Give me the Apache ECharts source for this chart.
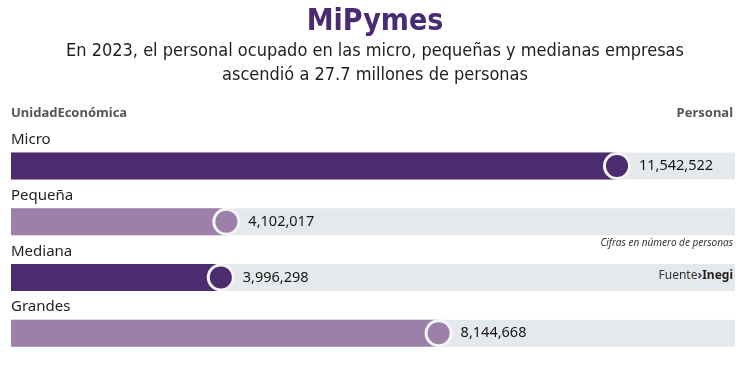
<!DOCTYPE html>
<html><head><meta charset="utf-8">
<script src="https://cdn.jsdelivr.net/npm/echarts@6/dist/echarts.min.js"></script>
<style>html,body{margin:0;padding:0;background:#fff}#c{width:750px;height:366px}</style>
</head><body><div id="c"></div>
<script>
var categories = ['Micro', 'Pequeña', 'Mediana', 'Grandes'];
var personal = [11542522, 4102017, 3996298, 8144668];
var barColors = ['#4b2c6e', '#9c80aa', '#4b2c6e', '#9c80aa'];
var axisMax = 13790000;

var cond = "'Liberation Sans Narrow', 'DejaVu Sans Condensed', sans-serif";
var body = "'Noto Sans', sans-serif";

function fmt(v) { return v.toString().replace(/\B(?=(\d{3})+(?!\d))/g, ','); }

var chart = echarts.init(document.getElementById('c'));
chart.setOption({
  animation: false,
  grid: { left: 11, right: 15, top: 138, height: 223 },
  xAxis: { type: 'value', min: 0, max: axisMax, show: false },
  yAxis: { type: 'category', data: categories, inverse: true, show: false },
  series: [
    {
      type: 'bar',
      barWidth: 27,
      data: personal.map(function (v, i) { return { value: v, itemStyle: { color: barColors[i] } }; }),
      showBackground: true,
      backgroundStyle: { color: '#e6e9ec' },
      label: {
        show: true,
        position: [0, -20],
        formatter: function (p) { return p.name; },
        color: '#1e1e1e', fontSize: 15, fontFamily: body
      },
      z: 2
    },
    {
      type: 'scatter',
      symbol: 'circle',
      symbolSize: 25,
      data: personal.map(function (v, i) { return { value: [v, categories[i]], itemStyle: { color: barColors[i] } }; }),
      itemStyle: { borderColor: '#f4f4f6', borderWidth: 3, opacity: 1 },
      label: {
        show: true, position: 'right', distance: 8,
        formatter: function (p) { return fmt(p.value[0]); },
        color: '#161616', fontSize: 14.5, fontFamily: body
      },
      z: 3
    }
  ],
  graphic: [
    { type: 'text', z: 100, left: 'center', top: 7, style: { text: 'MiPymes', fill: '#4a2a72', font: 'bold 30px ' + cond } },
    { type: 'text', z: 100, left: 'center', top: 42, style: { text: 'En 2023, el personal ocupado en las micro, pequeñas y medianas empresas', fill: '#1e1e1e', font: '18px ' + cond } },
    { type: 'text', z: 100, left: 'center', top: 66, style: { text: 'ascendió a 27.7 millones de personas', fill: '#1e1e1e', font: '18px ' + cond } },
    { type: 'text', z: 100, left: 11, top: 107, style: { text: 'UnidadEconómica', fill: '#555', font: 'bold 13px ' + body } },
    { type: 'text', z: 100, right: 17, top: 107, style: { text: 'Personal', fill: '#555', font: 'bold 13px ' + body } },
    { type: 'text', z: 100, right: 17, top: 238, style: { text: 'Cifras en número de personas', fill: '#333', font: 'italic 10px ' + body } },
    { type: 'text', z: 100, right: 17, top: 269, style: {
        text: '{a|Fuente}{b|›}{c|Inegi}',
        rich: {
          a: { fill: '#333', fontSize: 12, fontFamily: body },
          b: { fill: '#4a2a72', fontSize: 13, fontWeight: 'bold', fontFamily: body },
          c: { fill: '#222', fontSize: 12, fontWeight: 'bold', fontFamily: body }
        } } }
  ]
});
</script></body></html>
